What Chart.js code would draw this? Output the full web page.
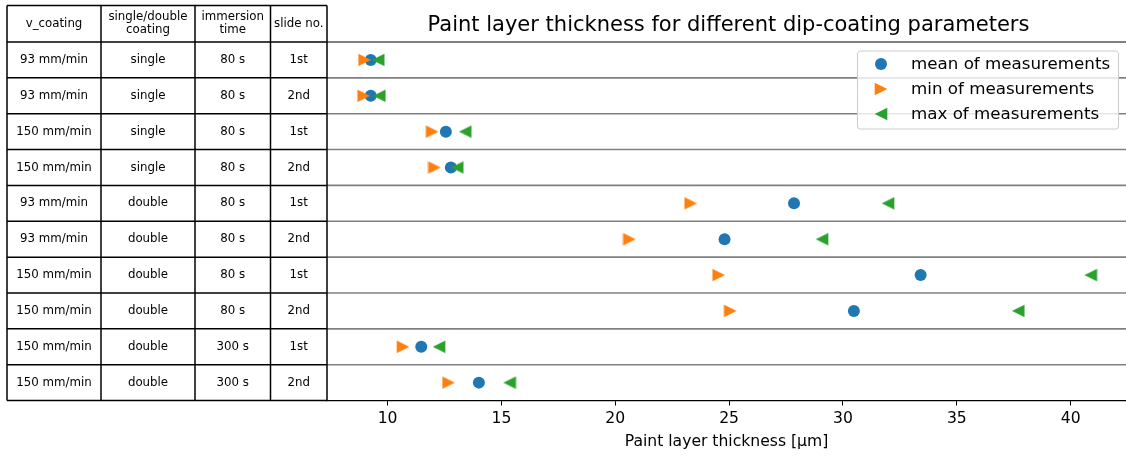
<!DOCTYPE html>
<html>
<head>
<meta charset="utf-8">
<script src="https://cdn.jsdelivr.net/npm/chart.js@4.4.1/dist/chart.umd.min.js"></script>
<style>
  html, body { margin: 0; padding: 0; background: #fff; }
  #wrap { width: 1126px; height: 457px; }
</style>
</head>
<body>
<div id="wrap"><canvas id="c" width="1126" height="457"></canvas></div>
<script>
// Sample parameters (one row per slide)
const vCoating  = ['93 mm/min', '93 mm/min', '150 mm/min', '150 mm/min', '93 mm/min', '93 mm/min', '150 mm/min', '150 mm/min', '150 mm/min', '150 mm/min'];
const coating   = ['single', 'single', 'single', 'single', 'double', 'double', 'double', 'double', 'double', 'double'];
const immersion = ['80 s', '80 s', '80 s', '80 s', '80 s', '80 s', '80 s', '80 s', '300 s', '300 s'];
const slideNo   = ['1st', '2nd', '1st', '2nd', '1st', '2nd', '1st', '2nd', '1st', '2nd'];
const headers   = [['v_coating'], ['single/double', 'coating'], ['immersion', 'time'], ['slide no.']];

// Measured paint layer thickness in µm
const meanVals = [9.26, 9.26, 12.56, 12.78, 27.85, 24.80, 33.41, 30.48, 11.48, 14.01];
const minVals  = [8.99, 8.95, 11.96, 12.06, 23.31, 20.62, 24.54, 25.05, 10.68, 12.68];
const maxVals  = [9.59, 9.64, 13.41, 13.06, 31.98, 29.08, 40.88, 37.70, 12.26, 15.36];

const xTicks = [10, 15, 20, 25, 30, 35, 40];
const seriesLabels = ['mean of measurements', 'min of measurements', 'max of measurements'];

const BLUE = '#1f77b4', ORANGE = '#ff7f0e', GREEN = '#2ca02c';
const FONT = "'DejaVu Sans', sans-serif";

// Table column edges (px) left of the plot
const colEdges = [7, 101, 195, 270.5, 327];
const tableTop = 5.5;

function triangleMarker(color, pointsRight) {
  const s = 14, h = 6.3, c = document.createElement('canvas');
  c.width = s; c.height = s;
  const g = c.getContext('2d');
  const m = s / 2;
  g.fillStyle = color;
  g.beginPath();
  if (pointsRight) {
    g.moveTo(m - h, m - h); g.lineTo(m + h, m); g.lineTo(m - h, m + h);
  } else {
    g.moveTo(m + h, m - h); g.lineTo(m - h, m); g.lineTo(m + h, m + h);
  }
  g.closePath();
  g.fill();
  return c;
}
const rightTri = triangleMarker(ORANGE, true);
const leftTri = triangleMarker(GREEN, false);

const toPoints = arr => arr.map((v, i) => ({ x: v, y: i + 0.5 }));

const tablePlugin = {
  id: 'tableAndFrame',
  beforeDatasetsDraw(chart) {
    const { ctx, chartArea: a, scales: { y } } = chart;
    ctx.save();
    // row separators across the plot
    ctx.strokeStyle = '#808080';
    ctx.lineWidth = 1.6;
    for (let k = 1; k < vCoating.length; k++) {
      const py = y.getPixelForValue(k);
      ctx.beginPath(); ctx.moveTo(a.left, py); ctx.lineTo(a.right, py); ctx.stroke();
    }
    // top spine
    ctx.strokeStyle = '#000';
    ctx.lineWidth = 1.2;
    const top = y.getPixelForValue(0);
    ctx.beginPath(); ctx.moveTo(a.left, top); ctx.lineTo(a.right, top); ctx.stroke();

    // table grid
    const bottom = y.getPixelForValue(vCoating.length);
    ctx.lineWidth = 1.5;
    ctx.strokeStyle = '#000';
    const rowEdges = [tableTop];
    for (let k = 0; k <= vCoating.length; k++) rowEdges.push(y.getPixelForValue(k));
    rowEdges.forEach(py => {
      ctx.beginPath(); ctx.moveTo(colEdges[0], py); ctx.lineTo(colEdges[colEdges.length - 1], py); ctx.stroke();
    });
    colEdges.forEach(px => {
      ctx.beginPath(); ctx.moveTo(px, tableTop); ctx.lineTo(px, bottom); ctx.stroke();
    });

    // table texts
    ctx.fillStyle = '#000';
    ctx.font = `11.8px ${FONT}`;
    ctx.textAlign = 'center';
    ctx.textBaseline = 'middle';
    const colMid = i => (colEdges[i] + colEdges[i + 1]) / 2;
    const headMid = (tableTop + top) / 2;
    headers.forEach((lines, i) => {
      const lh = 12.8;
      lines.forEach((t, j) => {
        ctx.fillText(t, colMid(i), headMid + (j - (lines.length - 1) / 2) * lh);
      });
    });
    const cols = [vCoating, coating, immersion, slideNo];
    for (let r = 0; r < vCoating.length; r++) {
      const py = y.getPixelForValue(r + 0.5);
      cols.forEach((col, i) => ctx.fillText(col[r], colMid(i), py));
    }

    // title
    ctx.font = `21px ${FONT}`;
    ctx.fillText('Paint layer thickness for different dip-coating parameters', (a.left + a.right) / 2 + 2, 26);
    ctx.restore();
  },
  afterDatasetsDraw(chart) {
    const { ctx } = chart;
    ctx.save();
    // legend frame
    const bx = 857.5, by = 51, bw = 261, bh = 78, r = 3;
    ctx.fillStyle = 'rgba(255,255,255,0.8)';
    ctx.strokeStyle = '#cccccc';
    ctx.lineWidth = 1;
    ctx.beginPath();
    ctx.roundRect(bx, by, bw, bh, r);
    ctx.fill(); ctx.stroke();
    const rows = [64, 89, 114];
    const mx = 881;
    ctx.fillStyle = BLUE;
    ctx.beginPath(); ctx.arc(mx, rows[0], 6, 0, Math.PI * 2); ctx.fill();
    ctx.drawImage(rightTri, mx - rightTri.width / 2, rows[1] - rightTri.height / 2);
    ctx.drawImage(leftTri, mx - leftTri.width / 2, rows[2] - leftTri.height / 2);
    ctx.fillStyle = '#000';
    ctx.font = `16.7px ${FONT}`;
    ctx.textAlign = 'left';
    ctx.textBaseline = 'middle';
    seriesLabels.forEach((t, i) => ctx.fillText(t, 911, rows[i] + 1));
    ctx.restore();
  }
};

new Chart(document.getElementById('c'), {
  type: 'scatter',
  data: {
    datasets: [
      { label: seriesLabels[0], data: toPoints(meanVals), pointStyle: 'circle', pointRadius: 6, backgroundColor: BLUE, borderWidth: 0, order: 3 },
      { label: seriesLabels[1], data: toPoints(minVals), pointStyle: rightTri, pointRadius: 7, backgroundColor: ORANGE, borderWidth: 0, order: 2 },
      { label: seriesLabels[2], data: toPoints(maxVals), pointStyle: leftTri, pointRadius: 7, backgroundColor: GREEN, borderWidth: 0, order: 1 }
    ]
  },
  options: {
    responsive: false,
    animation: false,
    devicePixelRatio: 1,
    events: [],
    layout: { autoPadding: false, padding: { left: 327, right: 0, top: 42, bottom: 6 } },
    plugins: { legend: { display: false }, title: { display: false }, tooltip: { enabled: false } },
    scales: {
      x: {
        type: 'linear',
        min: 7.34,
        max: 42.43,
        afterBuildTicks: s => { s.ticks = xTicks.map(v => ({ value: v })); },
        afterFit: s => { s.paddingLeft = 0; s.paddingRight = 0; },
        grid: { drawOnChartArea: false, drawTicks: true, tickLength: 5, tickColor: '#000', tickWidth: 1 },
        border: { display: true, color: '#000', width: 1.2 },
        ticks: { color: '#000', font: { family: FONT, size: 15.6 }, padding: 4, maxRotation: 0 },
        title: { display: true, text: 'Paint layer thickness [μm]', color: '#000', font: { family: FONT, size: 15.6 }, padding: { top: 0, bottom: 0 } }
      },
      y: {
        type: 'linear',
        display: false,
        reverse: true,
        min: 0,
        max: 10
      }
    }
  },
  plugins: [tablePlugin]
});
</script>
</body>
</html>
